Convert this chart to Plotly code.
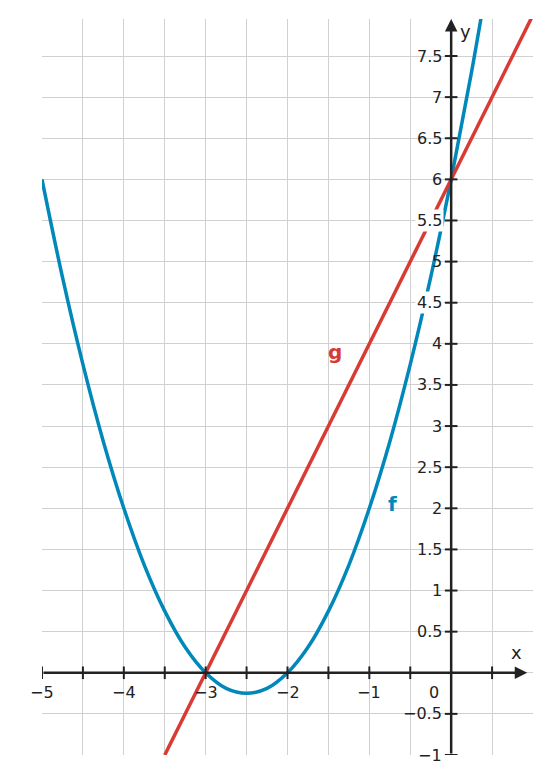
import plotly.graph_objects as go

# f
fx = [-5, -4.75, -4.5, -4.25, -4, -3.75, -3.5, -3.25, -3, -2.75, -2.5, -2.25,
      -2, -1.75, -1.5, -1.25, -1, -0.75, -0.5, -0.25, 0, 0.25, 0.5]
fy = [6, 4.81, 3.75, 2.81, 2, 1.31, 0.75, 0.31, 0, -0.19, -0.25, -0.19,
      0, 0.31, 0.75, 1.31, 2, 2.81, 3.75, 4.81, 6, 7.31, 8.75]
# g line endpoints
gx = [-3.5, 1]
gy = [-1, 8]

x_ticks = [-5, -4, -3, -2, -1]
x_ticklabels = ["\u22125", "\u22124", "\u22123", "\u22122", "\u22121"]
y_ticks = [-1, -0.5, 0.5, 1, 1.5, 2, 2.5, 3, 3.5, 4, 4.5, 5, 5.5, 6, 6.5, 7, 7.5]

blue = "#0088bb"
red = "#d93a33"
dark = "#222222"

fig = go.Figure()
fig.add_trace(go.Scatter(x=fx, y=fy, mode="lines", line=dict(color=blue, width=3.5, shape="spline")))
fig.add_trace(go.Scatter(x=gx, y=gy, mode="lines", line=dict(color=red, width=3.5)))

# tick marks on axes
xt = [v / 2 for v in range(-10, 2) if v != 0]
fig.add_trace(go.Scatter(x=xt, y=[0] * len(xt), mode="markers",
                         marker=dict(symbol="line-ns", size=9, line=dict(color=dark, width=2))))
fig.add_trace(go.Scatter(x=[0] * len(y_ticks), y=y_ticks, mode="markers",
                         marker=dict(symbol="line-ew", size=9, line=dict(color=dark, width=2))))

ann = []
for v, t in zip(x_ticks, x_ticklabels):
    ann.append(dict(x=v, y=0, text=t, showarrow=False, yshift=-20, font=dict(size=16, color=dark)))
for v in y_ticks:
    t = ("%g" % v).replace("-", "\u2212")
    ann.append(dict(x=0, y=v, text=t, showarrow=False, xanchor="right", xshift=-7,
                    font=dict(size=16, color=dark),
                    bgcolor="white" if v in (4.5, 5.5) else None))
ann.append(dict(x=0, y=0, text="0", showarrow=False, xanchor="right", xshift=-10, yshift=-20,
                font=dict(size=16, color=dark)))
ann.append(dict(x=0.8, y=0, text="x", showarrow=False, yshift=20, font=dict(size=18, color=dark)))
ann.append(dict(x=0, y=7.8, text="y", showarrow=False, xshift=14, font=dict(size=18, color=dark)))
ann.append(dict(x=-1.42, y=3.9, text="<b>g</b>", showarrow=False, font=dict(size=20, color=red)))
ann.append(dict(x=-0.72, y=2.05, text="<b>f</b>", showarrow=False, font=dict(size=20, color=blue)))
# axis arrows
ann.append(dict(x=0.93, y=0, ax=-5, ay=0, xref="x", yref="y", axref="x", ayref="y", text="",
                showarrow=True, arrowhead=2, arrowsize=1, arrowwidth=2.5, arrowcolor=dark))
ann.append(dict(x=0, y=7.95, ax=0, ay=-1, xref="x", yref="y", axref="x", ayref="y", text="",
                showarrow=True, arrowhead=2, arrowsize=1, arrowwidth=2.5, arrowcolor=dark))

fig.update_layout(
    width=551, height=783, showlegend=False,
    margin=dict(l=34, r=26, t=11, b=36),
    plot_bgcolor="white", paper_bgcolor="white",
    font=dict(family="DejaVu Sans"),
    annotations=ann,
)
fig.update_xaxes(range=[-5, 1], dtick=0.5, tick0=0, showgrid=True, gridcolor="#d0d0d0",
                 gridwidth=1, zeroline=False, showticklabels=False)
fig.update_yaxes(range=[-1, 7.95], dtick=0.5, tick0=0, showgrid=True, gridcolor="#d0d0d0",
                 gridwidth=1, zeroline=False, showticklabels=False)

fig.write_html("out.html")
